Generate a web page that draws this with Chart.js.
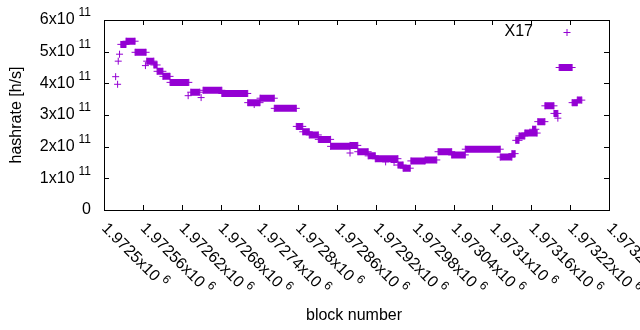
<!DOCTYPE html>
<html lang="en">
<head>
<meta charset="UTF-8">
<title>X17 hashrate</title>
<script src="https://cdn.jsdelivr.net/npm/chart.js@4/dist/chart.umd.min.js"></script>
<style>
    body { margin: 0; background: #fff; }
    .wrap { width: 640px; height: 330px; }
</style>
</head>
<body>
<div class="wrap"><canvas id="chart" width="640" height="330"></canvas></div>
<script>
// runs of constant hashrate: first block, last block, rate [h/s]
const segStart = [1972526, 1972534, 1972548, 1972566, 1972577, 1972582, 1972591, 1972602, 1972634, 1972653,
                  1972682, 1972722, 1972741, 1972763, 1972797, 1972807, 1972817, 1972831, 1972850, 1972880,
                  1972892, 1972908, 1972919, 1972954, 1972962, 1972974, 1972996, 1973016, 1973037, 1973058,
                  1973112, 1973130, 1973136, 1973141, 1973150, 1973162, 1973170, 1973181, 1973195, 1973203,
                  1973223, 1973231];
const segEnd   = [1972534, 1972548, 1972565, 1972577, 1972582, 1972591, 1972602, 1972631, 1972648, 1972682,
                  1972722, 1972741, 1972763, 1972797, 1972807, 1972817, 1972831, 1972850, 1972880, 1972892,
                  1972908, 1972919, 1972954, 1972962, 1972973, 1972996, 1973014, 1973037, 1973058, 1973112,
                  1973130, 1973135, 1973141, 1973150, 1973169, 1973167, 1973181, 1973195, 1973201, 1973223,
                  1973231, 1973238];
const segRate  = [5.23e11, 5.33e11, 4.98e11, 4.70e11, 4.58e11, 4.38e11, 4.22e11, 4.03e11, 3.72e11, 3.78e11,
                  3.68e11, 3.39e11, 3.53e11, 3.21e11, 2.64e11, 2.47e11, 2.37e11, 2.23e11, 2.01e11, 2.04e11,
                  1.84e11, 1.71e11, 1.62e11, 1.42e11, 1.32e11, 1.55e11, 1.58e11, 1.84e11, 1.74e11, 1.92e11,
                  1.67e11, 1.78e11, 2.20e11, 2.34e11, 2.43e11, 2.55e11, 2.79e11, 3.29e11, 3.05e11, 4.50e11,
                  3.39e11, 3.47e11];
// single blocks
const ptBlock = [1972518, 1972521, 1972522, 1972524, 1972564, 1972630, 1972650, 1972732, 1972880, 1972935,
                 1972948, 1973201];
const ptRate  = [4.21e11, 3.97e11, 4.70e11, 4.92e11, 4.56e11, 3.61e11, 3.55e11, 3.33e11, 1.80e11, 1.52e11,
                 1.50e11, 2.90e11];

const blockTicks = [1972500, 1972560, 1972620, 1972680, 1972740, 1972800, 1972860,
                    1972920, 1972980, 1973040, 1973100, 1973160, 1973220, 1973280];
const blockTickLabels = ['1.9725', '1.97256', '1.97262', '1.97268', '1.97274', '1.9728', '1.97286',
                         '1.97292', '1.97298', '1.97304', '1.9731', '1.97316', '1.97322', '1.97328'];
const rateTicks = [0, 1e11, 2e11, 3e11, 4e11, 5e11, 6e11];
const rateTickLabels = ['0', '1x10', '2x10', '3x10', '4x10', '5x10', '6x10'];
const rateTickExp = ['', '11', '11', '11', '11', '11', '11'];

const PURPLE = '#9400d3';
const FONT = '"Liberation Sans", Arial, sans-serif';

const segData = [];
segStart.forEach((s, i) => {
    segData.push({ x: s, y: segRate[i] }, { x: segEnd[i], y: segRate[i] }, { x: segEnd[i], y: null });
});
const ptData = ptBlock.map((b, i) => ({ x: b, y: ptRate[i] }));

// gnuplot-like frame, inward tics, superscript labels, key
const frame = {
    id: 'frame',
    afterDraw(chart) {
        const { ctx, chartArea: a, scales } = chart;
        const xs = scales.x, ys = scales.y;
        ctx.save();
        ctx.strokeStyle = '#000';
        ctx.lineWidth = 1;
        ctx.strokeRect(a.left + 0.5, a.top + 0.5, a.right - a.left, a.bottom - a.top);
        ctx.beginPath();
        blockTicks.forEach(v => {
            const x = Math.round(xs.getPixelForValue(v)) + 0.5;
            ctx.moveTo(x, a.bottom); ctx.lineTo(x, a.bottom - 5);
            ctx.moveTo(x, a.top); ctx.lineTo(x, a.top + 5);
        });
        rateTicks.forEach(v => {
            const y = Math.round(ys.getPixelForValue(v)) + 0.5;
            ctx.moveTo(a.left, y); ctx.lineTo(a.left + 5, y);
            ctx.moveTo(a.right, y); ctx.lineTo(a.right - 5, y);
        });
        ctx.stroke();

        ctx.fillStyle = '#000';
        // y tick labels
        rateTicks.forEach((v, i) => {
            const y = ys.getPixelForValue(v);
            ctx.textBaseline = 'middle';
            ctx.textAlign = 'right';
            ctx.font = '12px ' + FONT;
            const ew = rateTickExp[i] ? ctx.measureText(rateTickExp[i]).width : 0;
            ctx.fillText(rateTickExp[i], 91, y - 7);
            ctx.font = '16px ' + FONT;
            ctx.fillText(rateTickLabels[i], 91 - (ew ? ew + 4 : 0), y);
        });
        // x tick labels, rotated down to the right
        blockTicks.forEach((v, i) => {
            const x = xs.getPixelForValue(v);
            ctx.save();
            ctx.translate(x, a.bottom + 16);
            ctx.rotate(Math.PI / 4);
            ctx.textAlign = 'left';
            ctx.textBaseline = 'middle';
            ctx.font = '16px ' + FONT;
            ctx.fillText(blockTickLabels[i] + 'x10', 0, 0);
            const w = ctx.measureText(blockTickLabels[i] + 'x10').width;
            ctx.font = '12px ' + FONT;
            ctx.fillText('6', w + 4, -6);
            ctx.restore();
        });
        // axis titles
        ctx.font = '16px ' + FONT;
        ctx.textAlign = 'center';
        ctx.textBaseline = 'middle';
        ctx.fillText('block number', 354, 316);
        ctx.save();
        ctx.translate(17, 115);
        ctx.rotate(-Math.PI / 2);
        ctx.fillText('hashrate [h/s]', 0, 0);
        ctx.restore();
        // key
        ctx.textAlign = 'right';
        ctx.fillText('X17', 533, 32);
        ctx.strokeStyle = PURPLE;
        ctx.beginPath();
        ctx.moveTo(563.5, 32.5); ctx.lineTo(570.5, 32.5);
        ctx.moveTo(567, 29); ctx.lineTo(567, 36);
        ctx.stroke();
        ctx.restore();
    }
};

new Chart(document.getElementById('chart'), {
    type: 'line',
    data: {
        datasets: [
            {
                label: 'X17',
                data: segData,
                borderColor: PURPLE,
                backgroundColor: PURPLE,
                borderWidth: 7,
                borderCapStyle: 'butt',
                pointStyle: 'cross',
                pointRadius: 3.5,
                pointBorderWidth: 1,
                pointBorderColor: PURPLE,
                spanGaps: false,
                tension: 0
            },
            {
                label: 'X17 single',
                data: ptData,
                showLine: false,
                pointStyle: 'cross',
                pointRadius: 3.5,
                pointBorderWidth: 1,
                pointBorderColor: PURPLE
            }
        ]
    },
    options: {
        responsive: false,
        animation: false,
        layout: { padding: { left: 104, right: 31, top: 20, bottom: 120 } },
        scales: {
            x: { type: 'linear', min: 1972500, max: 1973280, display: false },
            y: { type: 'linear', min: 0, max: 6e11, display: false }
        },
        plugins: {
            legend: { display: false },
            tooltip: { enabled: false }
        }
    },
    plugins: [frame]
});
</script>
</body>
</html>
